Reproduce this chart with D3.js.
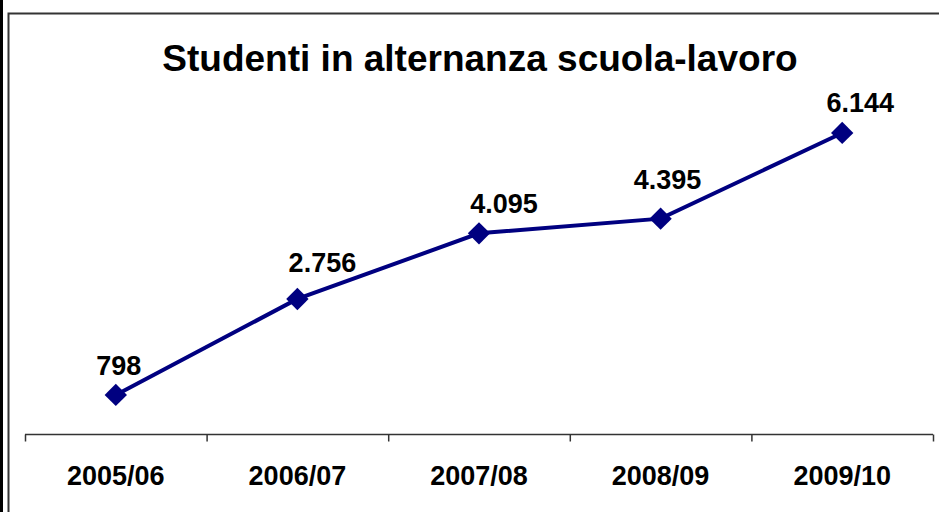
<!DOCTYPE html>
<html>
<head>
<meta charset="utf-8">
<script src="https://cdn.jsdelivr.net/npm/d3@7"></script>
<style>
  body { margin: 0; background: #fff; }
  svg { display: block; font-family: "Liberation Sans", Arial, sans-serif; }
</style>
</head>
<body>
<div id="graph"></div>
<script>
// dati del grafico
const anni = ["2005/06", "2006/07", "2007/08", "2008/09", "2009/10"];
const studenti = [798, 2756, 4095, 4395, 6144];
const etichette = ["798", "2.756", "4.095", "4.395", "6.144"];
const titolo = "Studenti in alternanza scuola-lavoro";

const width = 939, height = 512;
const svg = d3.select("#graph").append("svg")
    .attr("width", width)
    .attr("height", height);

// cornice
svg.append("line").attr("x1", 1.5).attr("x2", 1.5).attr("y1", 0).attr("y2", height)
    .attr("stroke", "#000").attr("stroke-width", 3);
svg.append("path").attr("d", `M8.5,${height} V13.5 H${width}`)
    .attr("fill", "none").attr("stroke", "#333").attr("stroke-width", 2);

// scale
const x = d3.scaleBand().domain(anni).range([25, 933]);
const y = d3.scaleLinear().domain([0, 7000]).range([434, 91]);
const cx = d => x(d) + x.bandwidth() / 2;

// titolo
svg.append("text")
    .attr("x", 480).attr("y", 71)
    .attr("text-anchor", "middle")
    .attr("font-size", 37).attr("font-weight", "bold")
    .text(titolo);

// asse x
const asse = svg.append("g").attr("transform", "translate(0,434.5)");
asse.append("line").attr("x1", 25).attr("x2", 933)
    .attr("stroke", "#333").attr("stroke-width", 1.5);
const bordi = anni.map(d => x(d)).concat([933]);
asse.selectAll(".tick").data(bordi).enter().append("line")
    .attr("x1", d => d + 0.5).attr("x2", d => d + 0.5)
    .attr("y1", 0).attr("y2", 7)
    .attr("stroke", "#333").attr("stroke-width", 1.5);
svg.selectAll(".cat").data(anni).enter().append("text")
    .attr("x", d => cx(d)).attr("y", 485)
    .attr("text-anchor", "middle")
    .attr("font-size", 27).attr("font-weight", "bold")
    .text(d => d);

// linea
const punti = anni.map((a, i) => ({ anno: a, v: studenti[i], lab: etichette[i] }));
svg.append("path").datum(punti)
    .attr("fill", "none").attr("stroke", "#000080").attr("stroke-width", 4)
    .attr("d", d3.line().x(d => cx(d.anno)).y(d => y(d.v)));

svg.selectAll(".m").data(punti).enter().append("path")
    .attr("d", d3.symbol().type(d3.symbolSquare).size(250))
    .attr("transform", d => `translate(${cx(d.anno)},${y(d.v)}) rotate(45)`)
    .attr("fill", "#000080");

// etichette spostate a mano come nell'originale
const spostaX = [3, 25, 25, 7, 18];
const spostaY = [-20, -27, -20, -30, -21];
svg.selectAll(".val").data(punti).enter().append("text")
    .attr("x", (d, i) => cx(d.anno) + spostaX[i])
    .attr("y", (d, i) => y(d.v) + spostaY[i])
    .attr("text-anchor", "middle")
    .attr("font-size", 27).attr("font-weight", "bold")
    .text(d => d.lab);
</script>
</body>
</html>
